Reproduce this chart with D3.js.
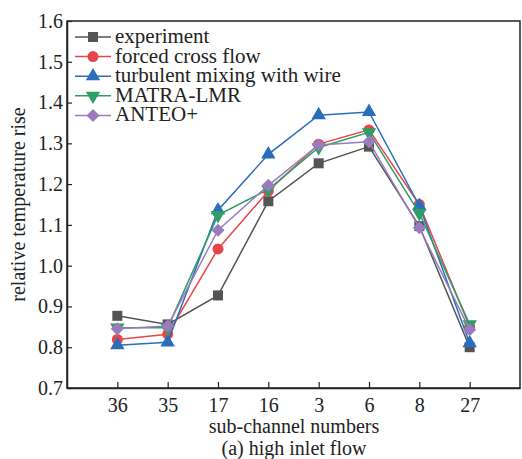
<!DOCTYPE html>
<html>
<head>
<meta charset="utf-8">
<script src="https://cdn.jsdelivr.net/npm/d3@7"></script>
<style>
  body { margin: 0; background: #fff; }
  svg { display: block; }
</style>
</head>
<body>
<script>
var width = 522, height = 459;
var margin = {left: 67, right: 2, top: 21, bottom: 71};
var serif = "'Liberation Serif', 'Times New Roman', serif";

var channels = ["36", "35", "17", "16", "3", "6", "8", "27"];
var experiment = [0.877, 0.856, 0.927, 1.158, 1.251, 1.292, 1.097, 0.800];
var forcedCross = [0.819, 0.832, 1.041, 1.183, 1.298, 1.333, 1.150, 0.850];
var turbulentWire = [0.805, 0.812, 1.136, 1.273, 1.369, 1.377, 1.147, 0.810];
var matraLmr = [0.848, 0.848, 1.124, 1.187, 1.290, 1.327, 1.129, 0.856];
var anteo = [0.845, 0.852, 1.087, 1.197, 1.296, 1.304, 1.093, 0.843];
var yTicks = [0.7, 0.8, 0.9, 1.0, 1.1, 1.2, 1.3, 1.4, 1.5, 1.6];

var series = [
  {name: "experiment", values: experiment, color: "#545454", symbol: d3.symbolSquare, size: 100, rot: 0},
  {name: "forced cross flow", values: forcedCross, color: "#e8454b", symbol: d3.symbolCircle, size: 95, rot: 0},
  {name: "turbulent mixing with wire", values: turbulentWire, color: "#2a6dbd", symbol: d3.symbolTriangle, size: 90, rot: 0},
  {name: "MATRA-LMR", values: matraLmr, color: "#2f9e66", symbol: d3.symbolTriangle, size: 90, rot: 180},
  {name: "ANTEO+", values: anteo, color: "#9a7bbd", symbol: d3.symbolSquare, size: 85, rot: 45}
];

var svg = d3.select("body").append("svg")
    .attr("width", width)
    .attr("height", height);

var x = d3.scalePoint()
    .domain(channels)
    .range([margin.left, width - margin.right])
    .padding(1);

var y = d3.scaleLinear()
    .domain([0.7, 1.6])
    .range([height - margin.bottom, margin.top]);

// frame
svg.append("rect")
    .attr("x", margin.left)
    .attr("y", margin.top)
    .attr("width", width - margin.right - margin.left)
    .attr("height", height - margin.bottom - margin.top)
    .attr("fill", "none")
    .attr("stroke", "#222")
    .attr("stroke-width", 1.5);

var xAxis = svg.append("g")
    .attr("transform", "translate(0," + (height - margin.bottom) + ")")
    .call(d3.axisBottom(x).tickSizeInner(-6).tickSizeOuter(0).tickPadding(10));

var yAxis = svg.append("g")
    .attr("transform", "translate(" + margin.left + ",0)")
    .call(d3.axisLeft(y).tickValues(yTicks).tickFormat(d3.format(".1f")).tickSizeInner(-5).tickSizeOuter(0).tickPadding(4));

[xAxis, yAxis].forEach(function(g) {
  g.select(".domain").attr("stroke", "#222").attr("stroke-width", 1.5);
  g.selectAll(".tick line").attr("stroke", "#222").attr("stroke-width", 1.2);
  g.selectAll(".tick text")
      .attr("fill", "#222")
      .style("font-family", serif)
      .style("font-size", "20px");
});

function label(sel) {
  return sel.attr("fill", "#222")
      .attr("text-anchor", "middle")
      .style("font-family", serif)
      .style("font-size", "20px");
}

svg.append("text")
    .attr("x", 294)
    .attr("y", 433)
    .call(label)
    .text("sub-channel numbers");

svg.append("text")
    .attr("x", 294)
    .attr("y", 455)
    .call(label)
    .text("(a) high inlet flow");

svg.append("text")
    .attr("transform", "translate(25," + ((margin.top + height - margin.bottom) / 2) + ") rotate(-90)")
    .call(label)
    .text("relative temperature rise");

var line = d3.line()
    .x(function(d, i) { return x(channels[i]); })
    .y(function(d) { return y(d); });

series.forEach(function(s) {
  var g = svg.append("g");
  g.append("path")
      .datum(s.values)
      .attr("d", line)
      .attr("fill", "none")
      .attr("stroke", s.color)
      .attr("stroke-width", 1.5);
  g.selectAll("path.mark")
      .data(s.values)
      .enter().append("path")
      .attr("class", "mark")
      .attr("d", d3.symbol().type(s.symbol).size(s.size))
      .attr("transform", function(d, i) {
        return "translate(" + x(channels[i]) + "," + y(d) + ") rotate(" + s.rot + ")";
      })
      .attr("fill", s.color);
});

// legend
var legend = svg.append("g");
series.forEach(function(s, i) {
  var ly = 37 + i * 19.6;
  legend.append("line")
      .attr("x1", 75).attr("x2", 111)
      .attr("y1", ly).attr("y2", ly)
      .attr("stroke", s.color)
      .attr("stroke-width", 1.5);
  legend.append("path")
      .attr("d", d3.symbol().type(s.symbol).size(s.size))
      .attr("transform", "translate(93," + ly + ") rotate(" + s.rot + ")")
      .attr("fill", s.color);
  legend.append("text")
      .attr("x", 115)
      .attr("y", ly + 6)
      .attr("fill", "#222")
      .style("font-family", serif)
      .style("font-size", "21px")
      .text(s.name);
});
</script>
</body>
</html>
